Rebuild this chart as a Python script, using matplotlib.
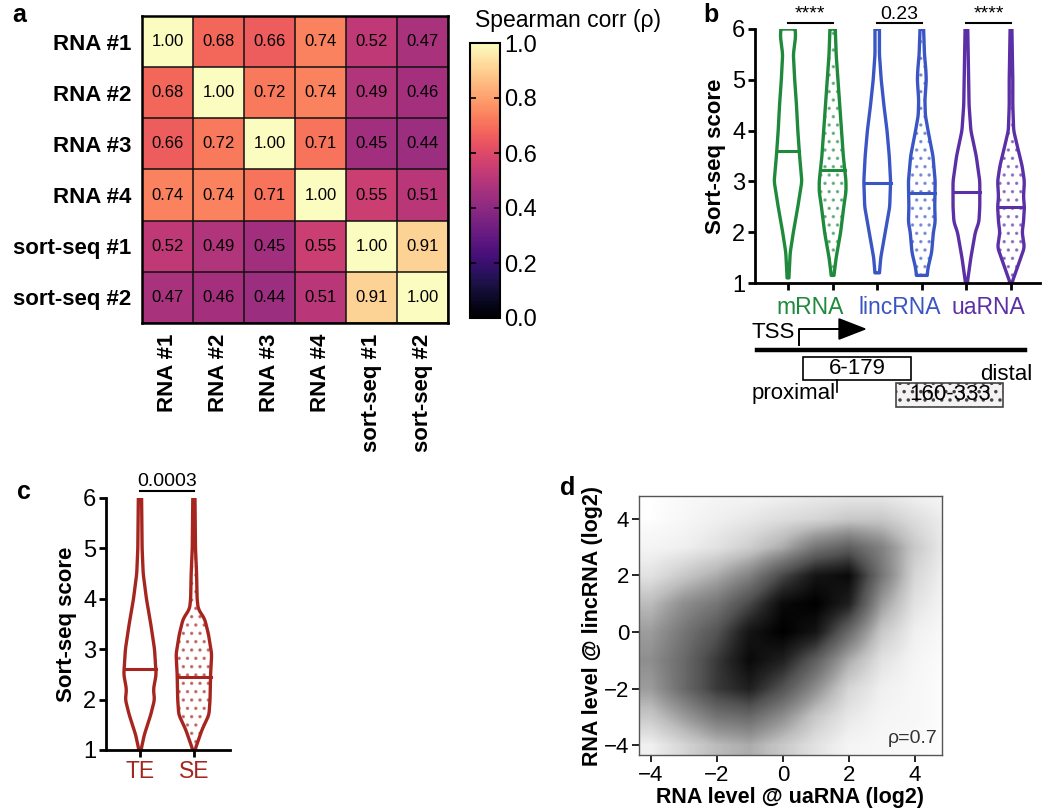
import numpy as np
import matplotlib
matplotlib.use("Agg")
import matplotlib.pyplot as plt
from matplotlib.colors import PowerNorm

plt.rcParams['font.family'] = ['Liberation Sans', 'DejaVu Sans']
plt.rcParams['hatch.linewidth'] = 1.3

# ---- panel a: correlation matrix
labels_a = ["RNA #1", "RNA #2", "RNA #3", "RNA #4", "sort-seq #1", "sort-seq #2"]
corr = np.array([
    [1.00, 0.68, 0.66, 0.74, 0.52, 0.47],
    [0.68, 1.00, 0.72, 0.74, 0.49, 0.46],
    [0.66, 0.72, 1.00, 0.71, 0.45, 0.44],
    [0.74, 0.74, 0.71, 1.00, 0.55, 0.51],
    [0.52, 0.49, 0.45, 0.55, 1.00, 0.91],
    [0.47, 0.46, 0.44, 0.51, 0.91, 1.00],
])

# ---- panel b: violin outlines (score level, half width)
groups_b = ["mRNA", "lincRNA", "uaRNA"]
colors_b = ["#1f8a3c", "#3a55c4", "#5b2fa5"]
mrna_prox_y = [1.1, 1.6, 2.0, 2.5, 3.0, 3.5, 4.0, 4.5, 5.0, 5.5, 5.85, 6.0]
mrna_prox_w = [0.02, 0.05, 0.12, 0.22, 0.31, 0.26, 0.22, 0.19, 0.15, 0.12, 0.17, 0.16]
mrna_dist_y = [1.15, 1.5, 2.0, 2.5, 2.8, 3.0, 3.5, 4.0, 4.5, 5.0, 5.5, 6.0]
mrna_dist_w = [0.03, 0.08, 0.18, 0.25, 0.3, 0.3, 0.24, 0.2, 0.16, 0.12, 0.08, 0.06]
linc_prox_y = [1.2, 1.5, 2.0, 2.5, 3.0, 3.5, 4.0, 4.5, 5.0, 5.5, 6.0]
linc_prox_w = [0.05, 0.08, 0.18, 0.28, 0.3, 0.27, 0.22, 0.15, 0.09, 0.05, 0.05]
linc_dist_y = [1.15, 1.3, 1.6, 2.0, 2.2, 2.5, 3.0, 3.5, 4.0, 4.3, 4.6, 5.0, 5.2, 5.5, 6.0]
linc_dist_w = [0.12, 0.14, 0.22, 0.26, 0.3, 0.29, 0.3, 0.25, 0.14, 0.08, 0.07, 0.1, 0.09, 0.06, 0.04]
ua_prox_y = [1.0, 1.5, 2.0, 2.2, 2.5, 3.0, 3.5, 4.0, 4.5, 5.0, 5.5, 6.0]
ua_prox_w = [0.02, 0.1, 0.2, 0.28, 0.3, 0.3, 0.22, 0.1, 0.06, 0.05, 0.04, 0.03]
ua_dist_y = [1.0, 1.2, 1.5, 1.7, 2.0, 2.2, 2.5, 2.7, 3.0, 3.3, 3.7, 4.0, 4.5, 5.0, 6.0]
ua_dist_w = [0.02, 0.1, 0.22, 0.3, 0.25, 0.28, 0.3, 0.28, 0.3, 0.25, 0.14, 0.06, 0.04, 0.04, 0.02]
medians_b = [3.6, 3.23, 2.97, 2.78, 2.8, 2.5]
pvals_b = ["****", "0.23", "****"]

# ---- panel c
groups_c = ["TE", "SE"]
te_y = [1.0, 1.3, 1.7, 2.0, 2.2, 2.5, 3.0, 3.5, 4.0, 4.5, 5.0, 6.0]
te_w = [0.02, 0.08, 0.2, 0.27, 0.25, 0.3, 0.27, 0.2, 0.12, 0.06, 0.04, 0.03]
se_y = [1.0, 1.4, 1.7, 2.0, 2.5, 2.9, 3.3, 3.6, 3.8, 4.0, 4.5, 5.0, 6.0]
se_w = [0.02, 0.15, 0.28, 0.3, 0.31, 0.33, 0.27, 0.2, 0.08, 0.06, 0.05, 0.03, 0.02]
medians_c = [2.6, 2.45]
pval_c = "0.0003"

# ---- panel d: point density on 1-unit grid (rows y=-4..5, cols x=-4..5)
grid_x = np.arange(-4, 6)
grid_y = np.arange(-4, 6)
density = np.array([
    [0.05, 0.15, 0.25, 0.30, 0.20, 0.10, 0.03, 0.02, 0.01, 0.00],
    [0.20, 0.35, 0.50, 0.55, 0.40, 0.20, 0.08, 0.03, 0.02, 0.00],
    [0.35, 0.55, 0.75, 0.85, 0.65, 0.40, 0.15, 0.05, 0.02, 0.00],
    [0.40, 0.55, 0.75, 0.95, 0.85, 0.60, 0.30, 0.10, 0.03, 0.00],
    [0.35, 0.50, 0.65, 0.90, 1.00, 0.90, 0.55, 0.20, 0.05, 0.01],
    [0.25, 0.40, 0.50, 0.70, 0.95, 1.00, 0.85, 0.35, 0.10, 0.02],
    [0.10, 0.20, 0.30, 0.45, 0.70, 0.90, 0.95, 0.50, 0.15, 0.03],
    [0.03, 0.05, 0.10, 0.18, 0.30, 0.50, 0.60, 0.45, 0.20, 0.05],
    [0.00, 0.02, 0.05, 0.08, 0.12, 0.15, 0.20, 0.20, 0.12, 0.05],
    [0.00, 0.01, 0.02, 0.02, 0.03, 0.05, 0.05, 0.05, 0.03, 0.02],
])
rho_d = 0.7

W, H = 1050, 811


def box(x0, y0, x1, y1):
    # pixel box (top-left origin) -> figure fraction rect
    return [x0 / W, 1 - y1 / H, (x1 - x0) / W, (y1 - y0) / H]


def smooth(v, k=9):
    pad = np.pad(v, k // 2, mode="edge")
    return np.convolve(pad, np.ones(k) / k, mode="valid")


def violin(ax, pos, ys, ws, color, med, dotted):
    yy = np.linspace(ys[0], ys[-1], 300)
    ww = smooth(np.interp(yy, ys, ws))
    xs = np.concatenate([pos - ww, (pos + ww)[::-1]])
    yf = np.concatenate([yy, yy[::-1]])
    if dotted:
        ax.fill(xs, yf, facecolor="none", edgecolor=color, alpha=0.55,
                hatch="..", lw=0)
    ax.fill(xs, yf, facecolor="none", edgecolor=color, lw=2.4, joinstyle="round")
    mw = np.interp(med, yy, ww)
    ax.plot([pos - mw, pos + mw], [med, med], color=color, lw=2.2)


def style_violin_axes(ax):
    for s in ["top", "right"]:
        ax.spines[s].set_visible(False)
    for s in ["left", "bottom"]:
        ax.spines[s].set_linewidth(2)
    ax.set_ylim(1, 6)
    ax.set_yticks([1, 2, 3, 4, 5, 6])
    ax.tick_params(axis="y", labelsize=17, width=2, length=5, pad=2)
    ax.tick_params(axis="x", width=2, length=5, labelbottom=False)
    ax.set_ylabel("Sort-seq score", fontsize=16, fontweight="bold", labelpad=4)


fig = plt.figure(figsize=(W / 100, H / 100), dpi=100)

# ---------------- panel a
ax_a = fig.add_axes(box(142, 16, 448, 323))
im = ax_a.imshow(corr, cmap="magma", vmin=0, vmax=1, aspect="auto")
n = len(labels_a)
for i in range(n):
    for j in range(n):
        ax_a.text(j, i, f"{corr[i, j]:.2f}", ha="center", va="center", fontsize=12)
ax_a.set_xticks(np.arange(n + 1) - 0.5, minor=True)
ax_a.set_yticks(np.arange(n + 1) - 0.5, minor=True)
ax_a.grid(which="minor", color="#111111", lw=1.1)
ax_a.tick_params(which="both", length=0)
ax_a.set_xticks(range(n))
ax_a.set_yticks(range(n))
ax_a.set_xticklabels(labels_a, rotation=90, fontsize=16, fontweight="bold")
ax_a.set_yticklabels(labels_a, fontsize=16, fontweight="bold")
ax_a.tick_params(axis="x", pad=8)
ax_a.tick_params(axis="y", pad=8)
for s in ax_a.spines.values():
    s.set_linewidth(1.8)

cax = fig.add_axes(box(470, 43, 500, 318))
cb = fig.colorbar(im, cax=cax, ticks=[0, 0.2, 0.4, 0.6, 0.8, 1.0])
cb.ax.set_yticklabels(["0.0", "0.2", "0.4", "0.6", "0.8", "1.0"])
cb.ax.tick_params(labelsize=17, length=4, width=1.2, direction="in",
                  left=True, right=True, pad=3)
cb.outline.set_linewidth(1.5)
fig.text(475 / W, 1 - 21 / H, "Spearman corr (ρ)", fontsize=16.5, va="center")

# ---------------- panel b
ax_b = fig.add_axes(box(755, 29, 1040, 283))
profiles_b = [(mrna_prox_y, mrna_prox_w), (mrna_dist_y, mrna_dist_w),
              (linc_prox_y, linc_prox_w), (linc_dist_y, linc_dist_w),
              (ua_prox_y, ua_prox_w), (ua_dist_y, ua_dist_w)]
for k, (ys, ws) in enumerate(profiles_b):
    violin(ax_b, k, ys, ws, colors_b[k // 2], medians_b[k], k % 2 == 1)
ax_b.set_xlim(-0.74, 5.65)
ax_b.set_xticks(range(6))
style_violin_axes(ax_b)
for g, (name, col) in enumerate(zip(groups_b, colors_b)):
    ax_b.text(2 * g + 0.5, -0.05, name, color=col, fontsize=16.5, ha="center",
              va="top", transform=ax_b.get_xaxis_transform())
    ax_b.plot([2 * g, 2 * g + 1], [6.12, 6.12], color="black", lw=1.5, clip_on=False)
    ax_b.text(2 * g + 0.5, 6.12, pvals_b[g], ha="center", va="bottom",
              fontsize=14, clip_on=False)

# TSS schematic (pixel-space helper axes)
ax_s = fig.add_axes(box(745, 315, 1045, 415))
ax_s.set_xlim(745, 1045)
ax_s.set_ylim(415, 315)
ax_s.axis("off")
ax_s.text(752, 332, "TSS", fontsize=16, va="center")
ax_s.plot([799, 799, 850], [345, 329, 329], color="black", lw=1.4)
ax_s.annotate("", xy=(867, 329), xytext=(845, 329),
              arrowprops=dict(arrowstyle="-|>,head_length=0.9,head_width=0.35",
                              color="black", lw=1.4, mutation_scale=20,
                              shrinkA=0, shrinkB=0))
ax_s.plot([757, 1025], [350, 350], color="black", lw=3.2)
ax_s.add_patch(plt.Rectangle((803, 357), 108, 23, fill=False, lw=1.2))
ax_s.text(857, 368, "6-179", fontsize=16, ha="center", va="center")
ax_s.plot([837, 837], [380, 392], color="black", lw=1.2)
ax_s.add_patch(plt.Rectangle((896, 383), 107, 24, facecolor="#f4f2f2",
                             edgecolor="#444444", hatch="..", lw=1.2))
ax_s.text(950, 395, "160-333", fontsize=16, ha="center", va="center")
ax_s.text(1032, 375, "distal", fontsize=16, ha="right", va="center")
ax_s.text(752, 394, "proximal", fontsize=16, ha="left", va="center")

# ---------------- panel c
red = "#a6261f"
ax_c = fig.add_axes(box(106, 498, 230, 750))
violin(ax_c, 0, te_y, te_w, red, medians_c[0], False)
violin(ax_c, 1, se_y, se_w, red, medians_c[1], True)
ax_c.set_xlim(-0.63, 1.67)
ax_c.set_xticks([0, 1])
style_violin_axes(ax_c)
for k, name in enumerate(groups_c):
    ax_c.text(k, -0.04, name, color=red, fontsize=16.5, ha="center", va="top",
              transform=ax_c.get_xaxis_transform())
ax_c.plot([0, 1], [6.14, 6.14], color="black", lw=1.5, clip_on=False)
ax_c.text(0.5, 6.15, pval_c, ha="center", va="bottom", fontsize=14, clip_on=False)

# ---------------- panel d
ax_d = fig.add_axes(box(639, 496, 942, 755))
ax_d.imshow(density, cmap="Greys", norm=PowerNorm(0.7, vmin=0, vmax=1), origin="lower",
            interpolation="bilinear", aspect="auto",
            extent=(grid_x[0] - 0.5, grid_x[-1] + 0.5, grid_y[0] - 0.5, grid_y[-1] + 0.5))
ax_d.set_xlim(-4.36, 4.82)
ax_d.set_ylim(-4.35, 4.81)
ax_d.set_xticks([-4, -2, 0, 2, 4])
ax_d.set_yticks([-4, -2, 0, 2, 4])
ax_d.tick_params(labelsize=16, width=1.2, length=5, pad=2)
for s in ax_d.spines.values():
    s.set_color("#555555")
    s.set_linewidth(1.0)
ax_d.set_xlabel("RNA level @ uaRNA (log2)", fontsize=15.5, fontweight="bold", labelpad=1)
ax_d.set_ylabel("RNA level @ lincRNA (log2)", fontsize=15.5, fontweight="bold", labelpad=1)
ax_d.text(0.985, 0.03, f"ρ={rho_d}", transform=ax_d.transAxes, ha="right",
          va="bottom", fontsize=14, color="#333333")

# panel letters
for x, y, t in [(12, 15, "a"), (703, 15, "b"), (17, 492, "c"), (560, 488, "d")]:
    fig.text(x / W, 1 - y / H, t, fontsize=18, fontweight="bold", va="center")

fig.savefig("out.png", dpi=100)
